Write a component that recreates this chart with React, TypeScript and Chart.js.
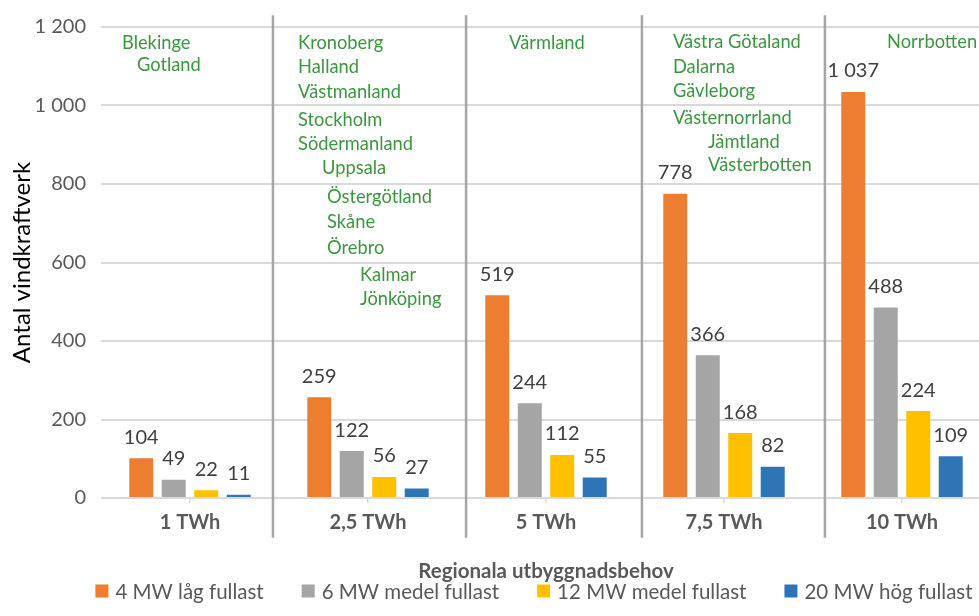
import React, { useEffect, useRef } from "react";
import { Chart, registerables } from "chart.js";

Chart.register(...registerables);

const categories = ["1 TWh", "2,5 TWh", "5 TWh", "7,5 TWh", "10 TWh"];
const seriesNames = ["4 MW låg fullast", "6 MW medel fullast", "12 MW medel fullast", "20 MW hög fullast"];
const mw4Low = [104, 259, 519, 778, 1037];
const mw6Medium = [49, 122, 244, 366, 488];
const mw12Medium = [22, 56, 112, 168, 224];
const mw20High = [11, 27, 55, 82, 109];
const seriesColors = ["#ED7D31", "#A5A5A5", "#FFC000", "#2E75B6"];

const yMin = 0;
const yMax = 1200;
const yStep = 200;

// Region names written in each category column (category position, value position)
const regionTexts = [
  "Blekinge", "Gotland",
  "Kronoberg", "Halland", "Västmanland", "Stockholm", "Södermanland", "Uppsala",
  "Östergötland", "Skåne", "Örebro", "Kalmar", "Jönköping",
  "Värmland",
  "Västra Götaland", "Dalarna", "Gävleborg", "Västernorrland", "Jämtland", "Västerbotten",
  "Norrbotten",
];
const regionCat = [
  -0.382, -0.298,
  0.607, 0.607, 0.607, 0.607, 0.607, 0.742,
  0.77, 0.77, 0.77, 0.955, 0.955,
  1.792,
  2.713, 2.713, 2.713, 2.713, 2.91, 2.91,
  3.916,
];
const regionValue = [
  1159, 1104,
  1159, 1098, 1035, 964, 901, 840,
  766, 703, 637, 568, 507,
  1159,
  1162, 1098, 1037, 967, 906, 847,
  1162,
];
const separatorCats = [0.466, 1.551, 2.539, 3.567];

const FONT = "Lato, 'Noto Sans', sans-serif";
const fmt = (n: number) => String(n).replace(/\B(?=(\d{3})+(?!\d))/g, " ");

const extrasPlugin = {
  id: "extras",
  afterDatasetsDraw(chart: any) {
    const ctx = chart.ctx;
    const xs = chart.scales.x;
    const ys = chart.scales.y;
    ctx.save();
    // data labels
    ctx.font = `20px ${FONT}`;
    ctx.fillStyle = "#404040";
    ctx.textAlign = "center";
    ctx.textBaseline = "middle";
    chart.data.datasets.forEach((ds: any, i: number) => {
      const meta = chart.getDatasetMeta(i);
      meta.data.forEach((el: any, j: number) => {
        ctx.fillText(fmt(ds.data[j]), el.x, el.y - 20);
      });
    });
    // separators
    ctx.strokeStyle = "#A6A6A6";
    ctx.lineWidth = 2.5;
    separatorCats.forEach((c) => {
      const x = xs.getPixelForValue(c);
      ctx.beginPath();
      ctx.moveTo(x, ys.getPixelForValue(1230));
      ctx.lineTo(x, ys.getPixelForValue(-101));
      ctx.stroke();
    });
    // region names
    ctx.font = `18.3px ${FONT}`;
    ctx.fillStyle = "#3A963F";
    ctx.textAlign = "left";
    regionTexts.forEach((t, i) => {
      ctx.fillText(t, xs.getPixelForValue(regionCat[i]), ys.getPixelForValue(regionValue[i]));
    });
    // legend
    ctx.font = `20.5px ${FONT}`;
    const box = 13;
    const gapText = 7;
    const gapItem = 38;
    const widths = seriesNames.map((s) => box + gapText + ctx.measureText(s).width);
    const total = widths.reduce((a, b) => a + b, 0) + gapItem * (seriesNames.length - 1);
    const center = (chart.chartArea.left + chart.chartArea.right) / 2 - 12;
    let x = center - total / 2;
    const ly = 591;
    ctx.textBaseline = "middle";
    seriesNames.forEach((s, i) => {
      ctx.fillStyle = seriesColors[i];
      ctx.fillRect(x, ly - box / 2, box, box);
      ctx.fillStyle = "#595959";
      ctx.fillText(s, x + box + gapText, ly + 1);
      x += widths[i] + gapItem;
    });
    ctx.restore();
  },
};

export default function App() {
  const ref = useRef<HTMLCanvasElement>(null);
  useEffect(() => {
    if (!ref.current) return;
    const seriesData = [mw4Low, mw6Medium, mw12Medium, mw20High];
    const chart = new Chart(ref.current, {
      type: "bar",
      data: {
        labels: categories,
        datasets: seriesNames.map((name, i) => ({
          label: name,
          data: seriesData[i],
          backgroundColor: seriesColors[i],
          borderColor: "rgba(255,255,255,0.35)",
          borderWidth: 1,
          categoryPercentage: 0.73,
          barPercentage: 0.8,
        })),
      },
      options: {
        responsive: false,
        animation: false,
        devicePixelRatio: 1,
        layout: { padding: { top: 25, right: 9, left: 0, bottom: 0 } },
        plugins: { legend: { display: false }, tooltip: { enabled: false } },
        scales: {
          x: {
            grid: {
              display: true,
              drawOnChartArea: false,
              drawTicks: true,
              tickLength: 5,
              offset: false,
              color: "#D9D9D9",
              lineWidth: 1.5,
            },
            border: { display: false },
            ticks: {
              color: "#595959",
              font: { family: FONT, size: 20, weight: "bold" },
              padding: 8,
            },
            title: {
              display: true,
              text: "Regionala utbyggnadsbehov",
              color: "#595959",
              font: { family: FONT, size: 20.5, weight: "bold" },
              padding: { top: 0, bottom: 32 },
            },
            afterFit: (s: any) => {
              s.height = 118;
            },
          },
          y: {
            min: yMin,
            max: yMax,
            grid: { color: "#D9D9D9", lineWidth: 2, drawTicks: false },
            border: { display: false },
            ticks: {
              stepSize: yStep,
              color: "#595959",
              font: { family: FONT, size: 20 },
              padding: 15,
              callback: (v: any) => fmt(Number(v)),
            },
            title: {
              display: true,
              text: "Antal vindkraftverk",
              color: "#000000",
              font: { family: FONT, size: 24 },
              padding: { top: 8, bottom: 0 },
            },
            afterFit: (s: any) => {
              s.width = 101;
            },
          },
        },
      },
      plugins: [extrasPlugin],
    });
    return () => chart.destroy();
  }, []);
  return (
    <div style={{ position: "fixed", left: 0, top: 0, width: 979, height: 616, overflow: "hidden", background: "#fff" }}>
      <canvas ref={ref} width={1000} height={616} style={{ width: 1000, height: 616, display: "block" }} />
    </div>
  );
}
